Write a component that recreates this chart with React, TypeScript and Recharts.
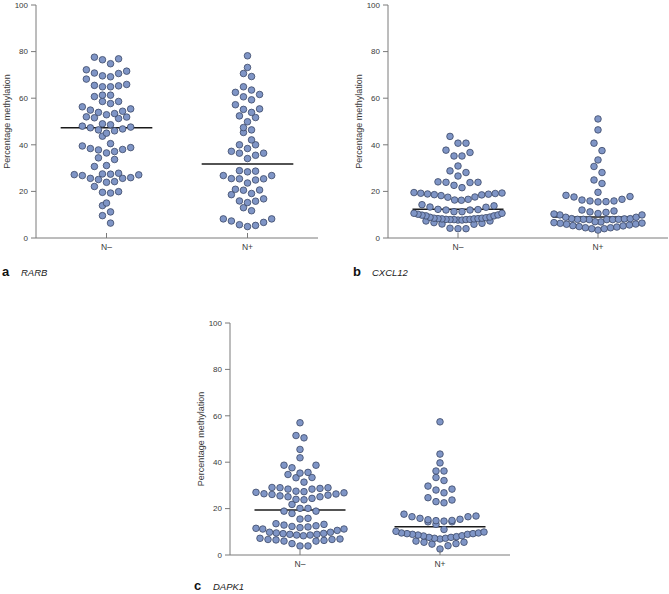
import React from "react";
import { ScatterChart, Scatter, XAxis, YAxis, ReferenceLine } from "recharts";

// values (percentage methylation per sample)
const RARB_NEG = [77.6, 76.9, 76.5, 74.8, 72.2, 71.6, 70.8, 70.6, 69.6, 69.2, 68.2, 65.9, 65.5, 65.3, 64.9, 64.9, 61.3, 61.3, 60.7, 58.6, 58.6, 57.7, 56.3, 55.4, 54.9, 54.4, 53.9, 53.4, 52.9, 52.0, 51.9, 51.6, 51.3, 49.0, 48.6, 48.0, 47.6, 47.3, 46.8, 46.4, 46.0, 45.0, 43.7, 40.5, 39.5, 38.8, 38.4, 38.0, 37.8, 37.1, 36.5, 34.4, 33.7, 31.1, 30.7, 27.8, 27.5, 27.4, 27.2, 27.1, 26.8, 25.9, 25.6, 25.6, 25.1, 24.2, 23.9, 22.1, 19.9, 19.6, 19.3, 15.0, 13.9, 11.2, 9.6, 6.4];
const RARB_POS = [78.2, 73.2, 70.6, 69.3, 64.9, 63.5, 62.5, 61.6, 60.6, 59.3, 57.2, 55.4, 55.2, 53.9, 52.4, 51.7, 49.9, 47.4, 46.4, 45.3, 42.1, 40.0, 40.0, 38.4, 37.2, 36.4, 36.4, 35.5, 34.1, 28.9, 28.7, 28.4, 26.8, 26.8, 25.5, 25.4, 25.4, 24.9, 23.6, 20.9, 20.6, 20.5, 19.1, 18.6, 16.8, 15.9, 15.8, 15.2, 13.0, 11.7, 8.2, 8.2, 7.3, 6.7, 5.7, 5.4, 4.9];
const CXCL12_NEG = [43.6, 40.7, 40.7, 37.7, 36.7, 35.2, 35.2, 30.9, 28.8, 28.1, 26.6, 24.1, 23.9, 23.9, 23.8, 22.6, 21.6, 19.5, 19.3, 19.2, 19.1, 18.9, 18.8, 18.6, 18.5, 18.2, 17.6, 17.5, 16.6, 16.3, 16.2, 14.3, 13.8, 13.3, 13.2, 12.3, 12.2, 12.0, 12.0, 11.3, 11.3, 10.6, 10.6, 10.2, 9.9, 9.8, 9.5, 9.5, 9.0, 8.9, 8.7, 8.5, 8.5, 8.3, 8.3, 8.2, 8.2, 8.0, 8.0, 7.9, 7.9, 7.9, 7.7, 7.7, 7.3, 7.3, 6.6, 6.3, 6.0, 5.9, 4.2, 4.0, 4.0];
const CXCL12_POS = [51.1, 46.4, 40.7, 37.5, 33.5, 30.7, 28.1, 24.9, 23.4, 19.6, 18.3, 17.8, 17.6, 16.6, 16.3, 15.9, 15.9, 15.6, 15.5, 12.0, 11.6, 11.2, 11.0, 10.5, 10.3, 9.9, 9.9, 8.9, 8.9, 8.3, 8.3, 8.2, 8.0, 8.0, 8.0, 7.9, 7.9, 7.9, 7.0, 6.9, 6.6, 6.4, 6.3, 6.0, 5.9, 5.6, 5.3, 5.2, 4.9, 4.7, 4.4, 4.4, 4.0, 4.0, 3.4];
const DAPK1_NEG = [57.0, 51.5, 50.5, 45.5, 41.9, 38.7, 38.7, 37.6, 35.6, 35.3, 34.7, 33.4, 33.3, 31.4, 29.1, 29.0, 29.0, 28.7, 28.4, 28.4, 27.5, 27.3, 27.0, 26.8, 26.4, 26.3, 26.1, 25.8, 25.5, 25.1, 25.1, 24.4, 24.0, 23.8, 21.8, 20.1, 20.1, 18.9, 18.9, 17.9, 15.8, 15.5, 13.5, 13.2, 12.9, 12.6, 12.3, 12.1, 11.8, 11.5, 11.2, 11.2, 10.6, 9.8, 9.8, 9.5, 9.3, 9.2, 8.9, 8.9, 8.6, 8.6, 8.3, 7.2, 6.9, 6.7, 6.7, 6.5, 6.3, 6.0, 6.0, 4.9, 3.9, 3.9];
const DAPK1_POS = [57.4, 43.5, 39.7, 36.2, 36.2, 33.4, 32.1, 29.7, 28.4, 28.0, 26.8, 24.7, 23.7, 23.0, 22.5, 17.6, 16.8, 16.5, 16.5, 15.8, 15.4, 15.2, 14.9, 14.8, 14.6, 14.3, 14.3, 13.2, 11.0, 10.2, 9.9, 9.5, 9.5, 9.2, 9.2, 8.9, 8.9, 8.6, 8.3, 8.2, 7.9, 7.6, 7.6, 7.2, 7.2, 6.9, 6.0, 5.5, 5.5, 4.9, 4.7, 4.0, 2.6];

// group mean lines [N-, N+]
const RARB_MEANS = [47.3, 31.8];
const CXCL12_MEANS = [12.3, 9.0];
const DAPK1_MEANS = [19.4, 12.2];

const GROUPS = ["N–", "N+"];
const Y_TICKS = [0, 20, 40, 60, 80, 100];

const FONT = "'Liberation Sans', Arial, Helvetica, sans-serif";
const AXIS = "#7a7a7a";
const TEXT = "#3a3a3a";
const DOT_FILL = "#7f95c6";
const DOT_STROKE = "#3b4866";

// swarm layout, Prism style: rows of close values, lowest value in the middle
const BIN = 3.5; // y units per row
const PITCH = 8; // px between dots in a row
const MAX_W = 88; // px, widest row
const PX_PER_X = 140; // px per x unit (one category band)
const MEAN_HALF = 0.325;

function swarm(values: number[], center: number) {
  const sorted = [...values].sort((a, b) => a - b);
  const rows: number[][] = [];
  let cur: number[] = [];
  let start = 0;
  for (const v of sorted) {
    if (cur.length && v - start < BIN) cur.push(v);
    else {
      if (cur.length) rows.push(cur);
      cur = [v];
      start = v;
    }
  }
  if (cur.length) rows.push(cur);

  const pts: { x: number; y: number }[] = [];
  rows.forEach((row) => {
    const n = row.length;
    const pitch = n > 1 ? Math.min(PITCH, MAX_W / (n - 1)) : 0;
    row.forEach((v, i) => {
      let slot: number;
      if (n % 2 === 1) slot = i === 0 ? 0 : (i % 2 ? 1 : -1) * Math.ceil(i / 2);
      else slot = (i % 2 === 0 ? 1 : -1) * (Math.floor(i / 2) + 0.5);
      pts.push({ x: center + (slot * pitch) / PX_PER_X, y: v });
    });
  });
  return pts;
}

const renderDot = (p: any) => (
  <circle cx={p.cx} cy={p.cy} r={3.3} fill={DOT_FILL} stroke={DOT_STROKE} strokeWidth={0.8} />
);

const XTick = (p: any) => (
  <g>
    <line x1={p.x} x2={p.x} y1={p.y} y2={p.y - 5} stroke={AXIS} />
    <text x={p.x} y={p.y + 12} textAnchor="middle" fontSize={8.5} fill={TEXT} fontFamily={FONT}>
      {GROUPS[p.payload.value < 1 ? 0 : 1]}
    </text>
  </g>
);

function Panel({ left, top, width, height, right, neg, pos, means }: any) {
  const data = [...swarm(neg, 0.5), ...swarm(pos, 1.5)];
  return (
    <div style={{ position: "absolute", left, top }}>
      <ScatterChart width={width} height={height} margin={{ top: 5, right, bottom: 0, left: 0 }}>
        <XAxis
          type="number"
          dataKey="x"
          domain={[0, 2]}
          ticks={[0.5, 1.5]}
          interval={0}
          height={20}
          axisLine={{ stroke: AXIS }}
          tickLine={false}
          tickSize={0}
          tickMargin={0}
          tick={XTick}
        />
        <YAxis
          type="number"
          dataKey="y"
          domain={[0, 100]}
          ticks={Y_TICKS}
          interval={0}
          width={36}
          axisLine={{ stroke: AXIS }}
          tickLine={{ stroke: AXIS }}
          tickSize={5}
          tickMargin={3}
          tick={{ fontSize: 8, fill: TEXT, fontFamily: FONT }}
        />
        <Scatter data={data} shape={renderDot} isAnimationActive={false} />
        {means.map((m: number, i: number) => (
          <ReferenceLine
            key={i}
            segment={[
              { x: i + 0.5 - MEAN_HALF, y: m },
              { x: i + 0.5 + MEAN_HALF, y: m },
            ]}
            stroke="#1a1a1a"
            strokeWidth={1.5}
          />
        ))}
      </ScatterChart>
    </div>
  );
}

const Caption = ({ x, y, letter, gene }: any) => (
  <g fontFamily={FONT}>
    <text x={x} y={y} fontSize={13} fontWeight="bold" fill="#111">
      {letter}
    </text>
    <text x={x + 19} y={y} fontSize={9.5} fontStyle="italic" fill="#222">
      {gene}
    </text>
  </g>
);

const YTitle = ({ x, y }: any) => (
  <text
    x={x}
    y={y}
    transform={`rotate(-90 ${x} ${y})`}
    textAnchor="middle"
    fontSize={9}
    fill={TEXT}
    fontFamily={FONT}
  >
    Percentage methylation
  </text>
);

export default function App() {
  return (
    <div style={{ position: "absolute", left: 0, top: 0, width: 669, height: 594, background: "#fff" }}>
      <Panel left={0} top={0} width={320} height={258} right={2} neg={RARB_NEG} pos={RARB_POS} means={RARB_MEANS} />
      <Panel left={352} top={0} width={317} height={258} right={1} neg={CXCL12_NEG} pos={CXCL12_POS} means={CXCL12_MEANS} />
      <Panel left={194} top={318} width={317} height={257} right={1} neg={DAPK1_NEG} pos={DAPK1_POS} means={DAPK1_MEANS} />
      <svg
        width={669}
        height={594}
        style={{ position: "absolute", left: 0, top: 0, pointerEvents: "none" }}
      >
        <YTitle x={10} y={121.5} />
        <YTitle x={362} y={121.5} />
        <YTitle x={204} y={439} />
        <Caption x={2} y={276} letter="a" gene="RARB" />
        <Caption x={353} y={276} letter="b" gene="CXCL12" />
        <Caption x={194} y={590} letter="c" gene="DAPK1" />
      </svg>
    </div>
  );
}
